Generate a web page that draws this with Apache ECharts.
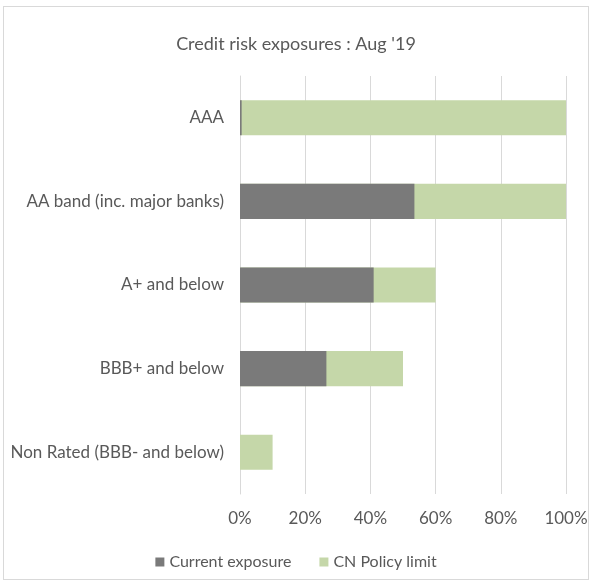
<!DOCTYPE html>
<html><head><meta charset="utf-8">
<script src="https://cdn.jsdelivr.net/npm/echarts@6/dist/echarts.min.js"></script>
<style>
html,body{margin:0;padding:0;background:#fff;}
#c{position:absolute;left:3px;top:6px;width:586px;height:574px;border:1px solid #d9d9d9;box-sizing:border-box;}
</style></head>
<body><div id="c"></div>
<script>
const categories = ["AAA", "AA band (inc. major banks)", "A+ and below", "BBB+ and below", "Non Rated (BBB- and below)"];
const currentExposure = [0.5, 53.5, 41, 26.5, 0];
const policyLimit = [100, 100, 60, 50, 10];
const xTicks = [0, 20, 40, 60, 80, 100];

const chart = echarts.init(document.getElementById('c'), null, {renderer: 'canvas'});
const font = 'Lato, "Open Sans", sans-serif';
chart.setOption({
  animation: false,
  title: {
    text: "Credit risk exposures : Aug '19",
    left: 'center', top: 23,
    textStyle: {fontFamily: font, fontSize: 18, fontWeight: 'normal', color: '#595959'}
  },
  legend: {
    bottom: 4, left: 'center',
    itemWidth: 9, itemHeight: 9, itemGap: 28,
    icon: 'rect',
    textStyle: {fontFamily: font, fontSize: 16, color: '#595959'},
    data: ['Current exposure', 'CN Policy limit']
  },
  grid: {left: 236, right: 22, top: 69, bottom: 85, outerBoundsMode: 'none', containLabel: false},
  xAxis: {
    type: 'value', min: xTicks[0], max: xTicks[xTicks.length-1], interval: 20,
    axisLine: {show: false}, axisTick: {show: false},
    splitLine: {lineStyle: {color: '#d9d9d9'}},
    axisLabel: {formatter: v => v + '%', color: '#595959', fontFamily: font, fontSize: 17, margin: 16}
  },
  yAxis: {
    type: 'category', data: categories, inverse: true,
    axisLine: {lineStyle: {color: '#d9d9d9'}}, axisTick: {show: false},
    axisLabel: {color: '#595959', fontFamily: font, fontSize: 17, margin: 16}
  },
  series: [
    {name: 'Current exposure', type: 'bar', data: currentExposure, z: 3,
     barGap: '-100%', barCategoryGap: '58%',
     itemStyle: {color: '#7a7a7a'}},
    {name: 'CN Policy limit', type: 'bar', data: policyLimit, z: 2,
     barGap: '-100%', barCategoryGap: '58%',
     itemStyle: {color: '#c5d7a9'}}
  ]
});
</script></body></html>
